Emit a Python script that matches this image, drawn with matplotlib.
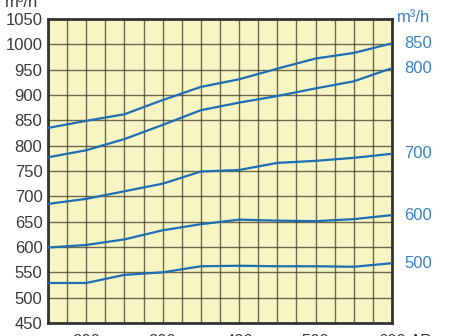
import matplotlib

matplotlib.use("Agg")
import matplotlib.pyplot as plt
import numpy as np

# pressure (Pa) sampled at the grid columns
pressure = [150, 200, 250, 300, 350, 400, 450, 500, 550, 600]

# airflow curves (left scale, m3/h), labelled by nominal flow on the right
flow_850 = [835, 849, 862, 890, 916, 931, 952, 972, 983, 1002]
flow_800 = [777, 791, 813, 841, 870, 885, 898, 913, 927, 953]
flow_700 = [685, 695, 710, 725, 749, 752, 766, 770, 776, 784]
flow_600 = [599, 604, 615, 633, 645, 654, 652, 651, 655, 663]
flow_500 = [529, 529, 545, 550, 562, 563, 562, 562, 561, 568]

curves = [flow_850, flow_800, flow_700, flow_600, flow_500]
curve_labels = ["850", "800", "700", "600", "500"]

x_ticks = [200, 300, 400, 500, 600]
y_ticks = list(range(450, 1051, 50))

plt.rcParams["font.family"] = ["Liberation Sans", "DejaVu Sans"]

fig = plt.figure(figsize=(4.59, 3.36), dpi=100)
ax = fig.add_axes([48 / 459, 13 / 336, 344 / 459, 304 / 336])
ax.set_facecolor("#f8f5c4")

line_col = "#1f6db3"
label_col = "#3b80c6"
for ys, lab in zip(curves, curve_labels):
    ax.plot(pressure, ys, color=line_col, lw=1.6, zorder=3)
    ax.annotate(lab, xy=(pressure[-1], ys[-1]), xytext=(9, 0),
                textcoords="offset points", fontsize=12, color=label_col,
                va="center", ha="left", annotation_clip=False)

ax.set_xlim(150, 600)
ax.set_ylim(450, 1050)
ax.set_xticks(np.arange(150, 601, 25), minor=True)
ax.set_xticks(x_ticks)
ax.set_yticks(y_ticks)
ax.grid(True, which="both", axis="x", color="#3d3a28", lw=1.0, alpha=0.75)
ax.grid(True, which="major", axis="y", color="#3d3a28", lw=1.0, alpha=0.75)
ax.set_axisbelow(True)

ax.tick_params(axis="both", which="both", length=0, labelsize=12,
               labelcolor="#3a3a3a")
ax.tick_params(axis="y", pad=4)
ax.tick_params(axis="x", pad=8)
for s in ax.spines.values():
    s.set_color("#333333")
    s.set_linewidth(2)

fig.text(5 / 459, 1 - 7 / 336, "m³/h", fontsize=12, color="#3a3a3a",
         ha="left", va="baseline")
fig.text(397 / 459, 1 - 18 / 336, "m³/h", fontsize=12, color=label_col,
         ha="left", va="center")
fig.text(410 / 459, 1 - 341 / 336, "ΔPa", fontsize=12, color="#3a3a3a",
         ha="left", va="center")

fig.savefig("out.png", dpi=100)
